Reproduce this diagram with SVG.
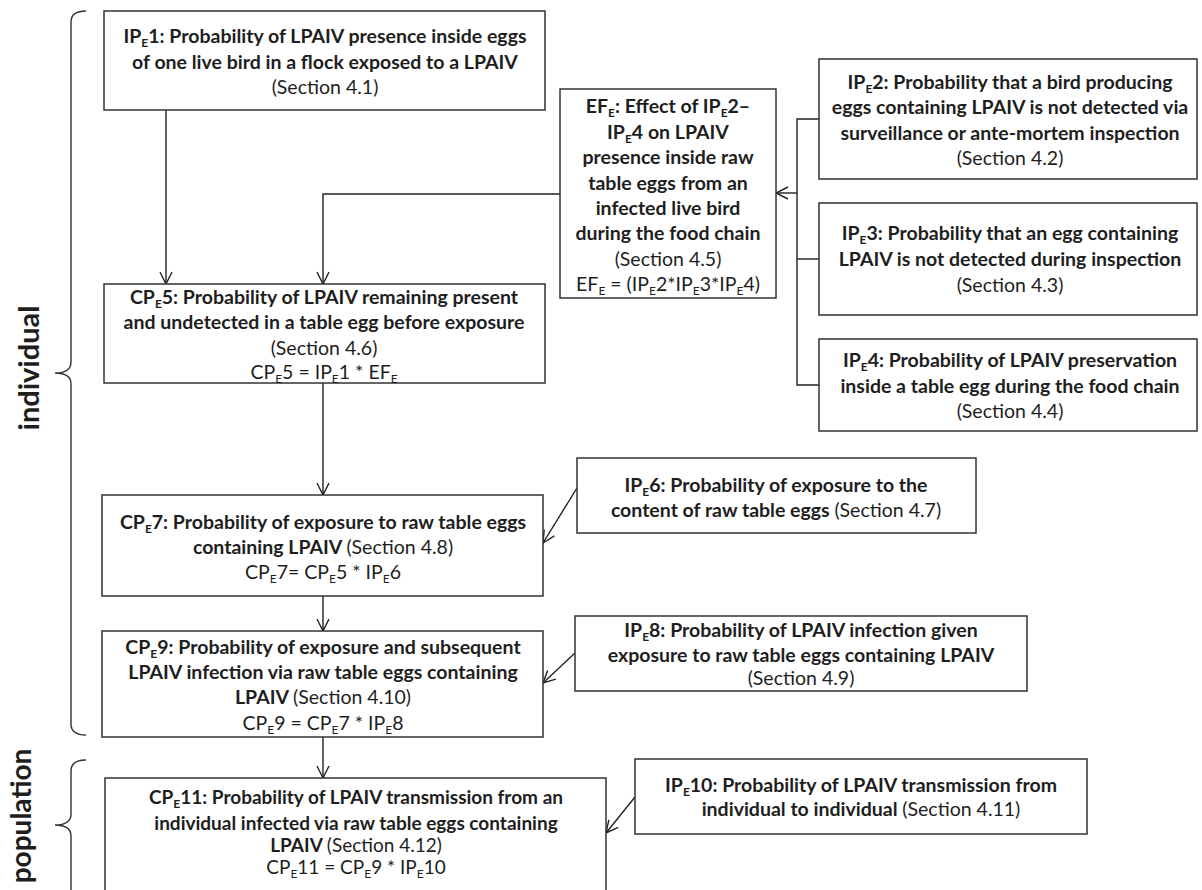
<svg xmlns="http://www.w3.org/2000/svg" width="1202" height="890" viewBox="0 0 1202 890">
<style>
text{font-family:Lato,"Open Sans","Liberation Sans",sans-serif;font-size:19.5px;fill:#1e1e1e;text-anchor:middle}
.b{font-weight:bold}
.n{font-weight:normal}
.s{font-size:12px;baseline-shift:-4px}
.sm{font-size:19px}
.box{fill:#fff;stroke:#333;stroke-width:1.5}
.c{fill:none;stroke:#222;stroke-width:1.4}
.br{fill:none;stroke:#333;stroke-width:1.4}
.lab{font-size:29px;font-weight:bold}
</style>
<defs>
<marker id="ah" markerUnits="userSpaceOnUse" markerWidth="14" markerHeight="14" viewBox="0 0 14 14" refX="13" refY="7" orient="auto">
<path d="M1,1 L13,7 L1,13" fill="none" stroke="#222" stroke-width="1.4"/>
</marker>
</defs>

<g id="brackets">
<path class="br" d="M86,11 Q71,11 71,22 L71,362 Q71,373 55,373 Q71,373 71,384 L71,724 Q71,735 86,735"/>
<path class="br" d="M86,760 Q71,760 71,771 L71,814 Q71,825 55,825 Q71,825 71,836 L71,892"/>
<text class="lab" transform="translate(39,368) rotate(-90)">individual</text>
<text class="lab" style="font-size:28px" transform="translate(31,816) rotate(-90)">population</text>
</g>

<g id="connectors">
<line class="c" x1="166" y1="110" x2="166" y2="284" marker-end="url(#ah)"/>
<polyline class="c" points="560,194 323,194 323,284" marker-end="url(#ah)"/>
<polyline class="c" points="819,119 797,119 797,385 819,385"/>
<line class="c" x1="797" y1="259" x2="819" y2="259"/>
<line class="c" x1="797" y1="193" x2="776" y2="193" marker-end="url(#ah)"/>
<line class="c" x1="323" y1="383" x2="323" y2="495" marker-end="url(#ah)"/>
<line class="c" x1="577" y1="488" x2="543" y2="543" marker-end="url(#ah)"/>
<line class="c" x1="323" y1="596" x2="323" y2="631" marker-end="url(#ah)"/>
<line class="c" x1="575" y1="653" x2="543" y2="683" marker-end="url(#ah)"/>
<line class="c" x1="323" y1="737" x2="323" y2="778" marker-end="url(#ah)"/>
<line class="c" x1="635" y1="797" x2="606" y2="833" marker-end="url(#ah)"/>
</g>

<g id="IPE1">
<rect class="box" x="104" y="11" width="441" height="99"/>
<text class="b" x="325" y="43">IP<tspan class="s">E</tspan>1: Probability of LPAIV presence inside eggs</text>
<text class="b" x="325" y="69">of one live bird in a flock exposed to a LPAIV</text>
<text x="325" y="94">(Section 4.1)</text>
</g>

<g id="EFE">
<rect class="box" x="560" y="89" width="216" height="209"/>
<text class="b" x="668" y="113">EF<tspan class="s">E</tspan>: Effect of IP<tspan class="s">E</tspan>2–</text>
<text class="b" x="668" y="139">IP<tspan class="s">E</tspan>4 on LPAIV</text>
<text class="b" x="668" y="164">presence inside raw</text>
<text class="b" x="668" y="190">table eggs from an</text>
<text class="b" x="668" y="215">infected live bird</text>
<text class="b" x="668" y="240">during the food chain</text>
<text x="668" y="266">(Section 4.5)</text>
<text x="668" y="291">EF<tspan class="s">E</tspan> = (IP<tspan class="s">E</tspan>2*IP<tspan class="s">E</tspan>3*IP<tspan class="s">E</tspan>4)</text>
</g>

<g id="IPE2">
<rect class="box" x="819" y="59" width="378" height="120"/>
<text class="b" x="1010" y="89">IP<tspan class="s">E</tspan>2: Probability that a bird producing</text>
<text class="b" x="1010" y="114">eggs containing LPAIV is not detected via</text>
<text class="b" x="1010" y="140">surveillance or ante-mortem inspection</text>
<text x="1010" y="165">(Section 4.2)</text>
</g>

<g id="IPE3">
<rect class="box" x="819" y="203" width="378" height="112"/>
<text class="b" x="1010" y="240">IP<tspan class="s">E</tspan>3: Probability that an egg containing</text>
<text class="b" x="1010" y="266">LPAIV is not detected during inspection</text>
<text x="1010" y="292">(Section 4.3)</text>
</g>

<g id="IPE4">
<rect class="box" x="819" y="339" width="378" height="92"/>
<text class="b" x="1010" y="367">IP<tspan class="s">E</tspan>4: Probability of LPAIV preservation</text>
<text class="b" x="1010" y="393">inside a table egg during the food chain</text>
<text x="1010" y="418">(Section 4.4)</text>
</g>

<g id="CPE5">
<rect class="box" x="104" y="284" width="441" height="99"/>
<text class="b" x="324" y="304">CP<tspan class="s">E</tspan>5: Probability of LPAIV remaining present</text>
<text class="b" x="324" y="329">and undetected in a table egg before exposure</text>
<text x="324" y="355">(Section 4.6)</text>
<text x="324" y="379">CP<tspan class="s">E</tspan>5 = IP<tspan class="s">E</tspan>1 * EF<tspan class="s">E</tspan></text>
</g>

<g id="CPE7">
<rect class="box" x="102" y="495" width="441" height="101"/>
<text class="b" x="323" y="529">CP<tspan class="s">E</tspan>7: Probability of exposure to raw table eggs</text>
<text class="b" x="323" y="554">containing LPAIV <tspan class="n">(Section 4.8)</tspan></text>
<text x="323" y="579">CP<tspan class="s">E</tspan>7= CP<tspan class="s">E</tspan>5 * IP<tspan class="s">E</tspan>6</text>
</g>

<g id="IPE6">
<rect class="box" x="577" y="458" width="399" height="75"/>
<text class="b" x="776" y="492">IP<tspan class="s">E</tspan>6: Probability of exposure to the</text>
<text class="b" x="776" y="517">content of raw table eggs <tspan class="n">(Section 4.7)</tspan></text>
</g>

<g id="CPE9">
<rect class="box" x="102" y="631" width="441" height="106"/>
<text class="b" x="323" y="654">CP<tspan class="s">E</tspan>9: Probability of exposure and subsequent</text>
<text class="b" x="323" y="679">LPAIV infection via raw table eggs containing</text>
<text class="b" x="323" y="704">LPAIV <tspan class="n">(Section 4.10)</tspan></text>
<text x="323" y="730">CP<tspan class="s">E</tspan>9 = CP<tspan class="s">E</tspan>7 * IP<tspan class="s">E</tspan>8</text>
</g>

<g id="IPE8">
<rect class="box" x="575" y="616" width="452" height="75"/>
<text class="b" x="801" y="637">IP<tspan class="s">E</tspan>8: Probability of LPAIV infection given</text>
<text class="b" x="801" y="662">exposure to raw table eggs containing LPAIV</text>
<text x="801" y="685">(Section 4.9)</text>
</g>

<g id="CPE11">
<rect class="box" x="105" y="778" width="501" height="118"/>
<text class="b sm" x="356" y="804">CP<tspan class="s">E</tspan>11: Probability of LPAIV transmission from an</text>
<text class="b sm" x="356" y="830">individual infected via raw table eggs containing</text>
<text class="b sm" x="356" y="852">LPAIV <tspan class="n">(Section 4.12)</tspan></text>
<text class="sm" x="356" y="874">CP<tspan class="s">E</tspan>11 = CP<tspan class="s">E</tspan>9 * IP<tspan class="s">E</tspan>10</text>
</g>

<g id="IPE10">
<rect class="box" x="635" y="759" width="452" height="75"/>
<text class="b" x="861" y="792">IP<tspan class="s">E</tspan>10: Probability of LPAIV transmission from</text>
<text class="b" x="861" y="816">individual to individual <tspan class="n">(Section 4.11)</tspan></text>
</g>
</svg>
